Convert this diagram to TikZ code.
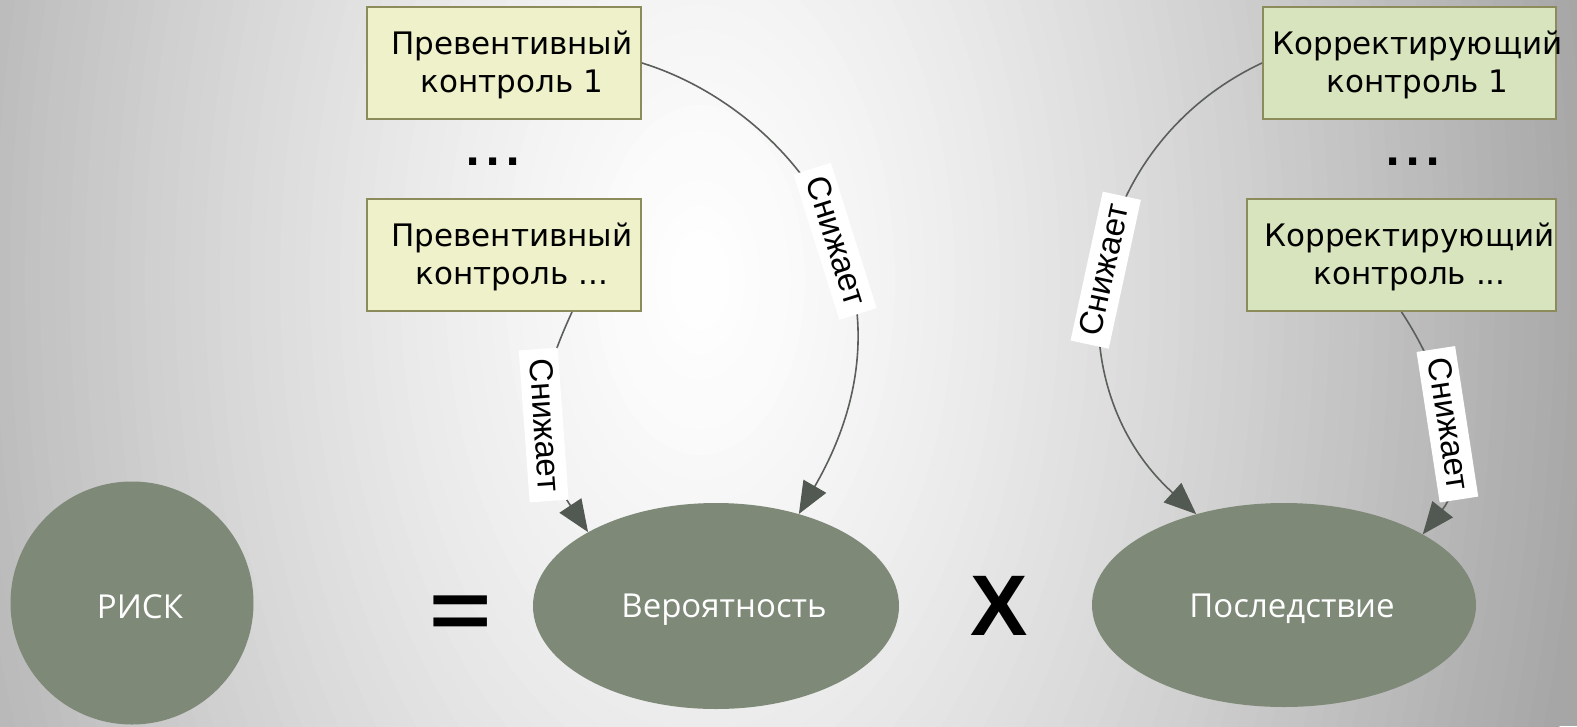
\documentclass[tikz,border=0pt]{standalone}
\usepackage{fontspec}
\setmainfont{DejaVu Sans}
\newfontfamily\boxfont{DejaVu Sans}
\newfontfamily\lblfont{Liberation Sans}
\newfontfamily\ellfont{Open Sans}
\newfontfamily\symfont{Liberation Sans}
\usetikzlibrary{shapes.geometric,arrows.meta}
\definecolor{ellfill}{HTML}{7E8978}
\definecolor{prevfill}{HTML}{EEF1C9}
\definecolor{corrfill}{HTML}{D8E4BE}
\definecolor{boxedge}{HTML}{8B8B5B}
\definecolor{connc}{HTML}{5A5F5A}
\definecolor{tipc}{HTML}{525852}
\definecolor{bgedge}{RGB}{166,166,166}
\tikzset{
  ellnode/.style={ellipse, fill=ellfill, draw=none, inner sep=0pt},
  elltxt/.style={text=white, font=\ellfont\fontsize{33}{38}\selectfont, xshift=8pt, yshift=-4pt},
  ctrlbox/.style={rectangle, draw=boxedge, line width=2pt, inner sep=0pt, minimum height=112pt},
  boxtxt/.style={font=\boxfont\fontsize{31}{38}\selectfont, align=center, xshift=8pt, yshift=-2pt, text=black},
  lbl/.style={fill=white, font=\lblfont\fontsize{33}{33}\selectfont, inner xsep=9.5pt, inner ysep=2pt, text height=27pt, text depth=8pt, sloped},
  link/.style={draw=connc, line width=1.6pt, -{Triangle[length=32pt,width=26pt,color=tipc]}},
  dots/.style={font=\boxfont\bfseries\fontsize{40}{40}\selectfont},
  opsym/.style={font=\symfont\bfseries, text=black, inner sep=0pt}
}
\begin{document}
\begin{tikzpicture}[x=1pt,y=-1pt]
\useasboundingbox (0,0) rectangle (1577,726);
% background: radial grey-to-white gradient
\begin{scope}
  \clip (0,0) rectangle (1577,726);
  \fill[bgedge] (0,0) rectangle (1577,726);
  \foreach \i in {60,59,...,1}{
    \pgfmathsetmacro\pmix{100*(\i/60)^1.3}
    \fill[bgedge!\pmix!white] (700,280) ellipse [x radius=15*\i, y radius=25*\i];
  }
\end{scope}

% main nodes
\node[ellnode, circle, minimum size=243pt, label={[elltxt]center:РИСК}] (risk) at (132,603) {};
\node[ellnode, minimum width=366pt, minimum height=206pt, label={[elltxt]center:Вероятность}] (ver) at (716,606) {};
\node[ellnode, minimum width=384pt, minimum height=204pt, label={[elltxt]center:Последствие}] (cons) at (1284,605) {};

\node[opsym, anchor=base, font=\symfont\bfseries\fontsize{82}{82}\selectfont] (eq) at (461,638) {\scalebox{1.3}[1]{=}};
\node[opsym, font=\symfont\bfseries\fontsize{86}{86}\selectfont] (times) at (999,606) {X};

% control boxes
\node[ctrlbox, fill=prevfill, minimum width=274pt, label={[boxtxt]center:{Превентивный\\контроль 1}}] (b1) at (504,63) {};
\node[ctrlbox, fill=prevfill, minimum width=274pt, label={[boxtxt]center:{Превентивный\\контроль ...}}] (b2) at (504,255) {};
\node[ctrlbox, fill=corrfill, minimum width=293pt, label={[boxtxt]center:{Корректирующий\\контроль 1}}] (b3) at (1409.5,63) {};
\node[ctrlbox, fill=corrfill, minimum width=309pt, label={[boxtxt]center:{Корректирующий\\контроль ...}}] (b4) at (1401.5,255) {};

\node[dots] (d1) at (493,162) {.\kern5pt.\kern5pt.};
\node[dots] (d2) at (1413,162) {.\kern5pt.\kern5pt.};

% connectors
\draw[link] (b1.east) .. controls +(143,44) and +(135,-234) .. node[lbl, pos=0.55, rotate=-3] (l1) {Снижает} (ver.48.6);
\draw[link] ([xshift=68pt]b2.south) .. controls +(-42,91) and +(-55,-83) .. node[lbl, pos=0.5] (l2) {Снижает} (ver.150.1);
\draw[link] (b3.west) .. controls +(-181,85) and +(-148,-134) .. node[lbl, pos=0.5, rotate=-4] (l3) {Снижает} (cons.134);
\draw[link] (b4.south) .. controls +(44,66) and +(50,-63) .. node[lbl, pos=0.5] (l4) {Снижает} (cons.27.9);
\end{tikzpicture}
\end{document}
